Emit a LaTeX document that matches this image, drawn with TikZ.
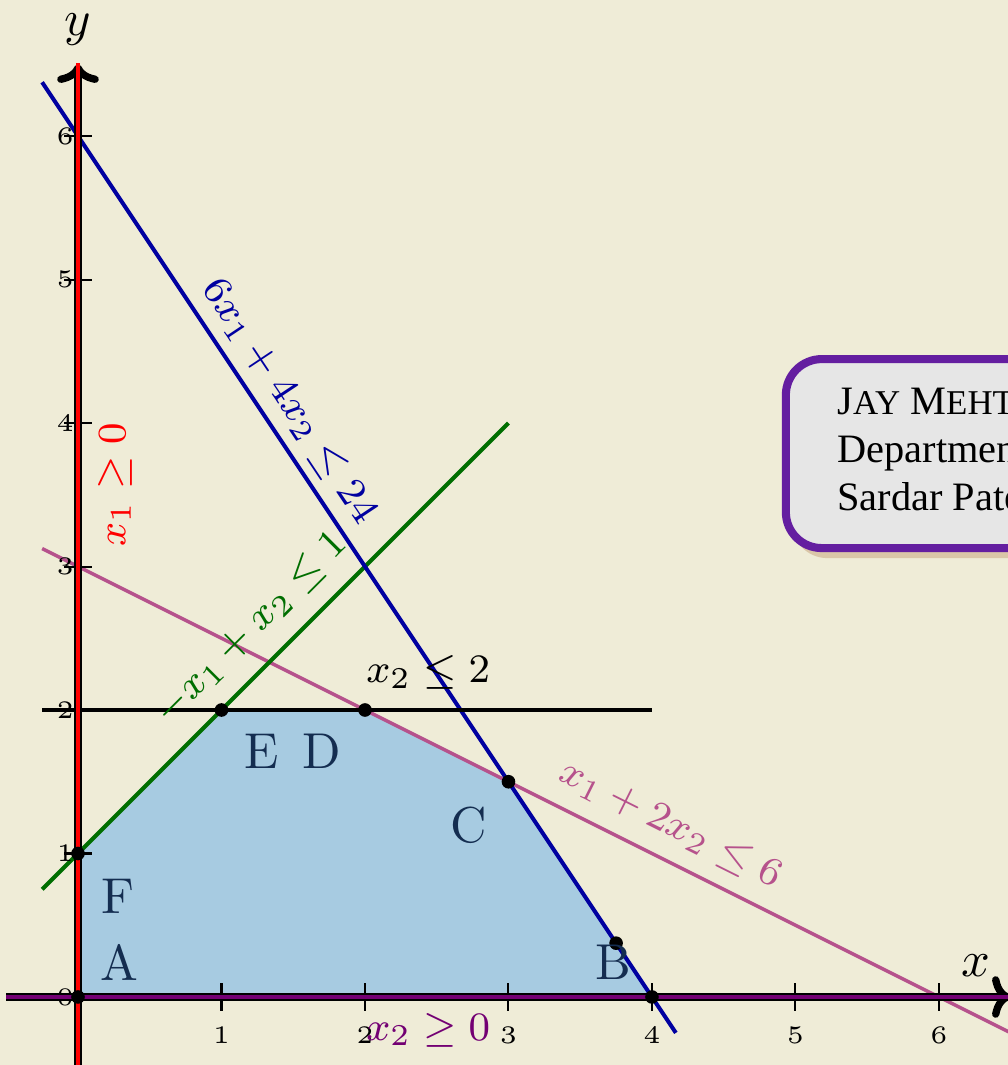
\documentclass[tikz,border=0pt]{standalone}
\usepackage{amsmath}
\usepackage{amssymb}
\usepackage{fontspec}
\newfontfamily\boxfont{Liberation Serif}
\usetikzlibrary{
    arrows.meta,
    shadows
}

\definecolor{paper}{RGB}{239,236,215}
\definecolor{feasible}{RGB}{167,203,225}
\definecolor{cornertext}{RGB}{20,45,80}
\definecolor{navyline}{RGB}{0,0,160}
\definecolor{greenline}{RGB}{0,110,0}
\definecolor{pinkline}{RGB}{182,82,140}
\definecolor{purpleline}{RGB}{115,0,115}
\definecolor{boxframe}{RGB}{100,30,160}
\definecolor{boxfill}{RGB}{230,230,230}
\definecolor{boxshade}{RGB}{218,198,168}

\newcommand{\smallcap}[1]{{\fontsize{6.9}{8}\selectfont #1}}

\tikzset{
    axisline/.style={line width=1.45pt, -{To[length=1.3mm,width=2.9mm]}},
    tickmark/.style={line width=0.4pt},
    ticklabel/.style={font=\tiny, inner sep=0pt},
    constraint/.style={font=\fontsize{8.3}{10}\selectfont, inner sep=1pt},
    corner/.style={text=cornertext, inner sep=0pt},
    vertexdot/.style={fill=black}
}

\begin{document}
\begin{tikzpicture}[scale=1]
% Background and frame
\fill[paper] (-0.5436,-0.474) rectangle (6.481,6.948);
\useasboundingbox (-0.5436,-0.474) rectangle (6.481,6.948);
\clip (-0.5436,-0.474) rectangle (6.481,6.948);

% Corner points
\coordinate (A) at (0,0);
\coordinate (B) at (4,0);
\coordinate (C) at (3,1.5);
\coordinate (D) at (2,2);
\coordinate (E) at (1,2);
\coordinate (F) at (0,1);
\coordinate (G) at (3.75,0.375);

% Feasible region
\fill[feasible] (A) -- (B) -- (C) -- (D) -- (E) -- (F) -- cycle;

% Constraint lines
\draw[pinkline, line width=0.7pt] (-0.25,3.125) -- (6.5,-0.25);
\draw[greenline, line width=0.8pt] (-0.25,0.75) -- (3,4);
\draw[navyline, line width=0.8pt] (-0.25,6.375) -- (4.1667,-0.25);
\draw[black, line width=0.9pt] (-0.25,2) -- (4,2);

% Axes
\draw[axisline] (-0.5,0) -- (6.5,0);
\draw[axisline] (0,-0.5) -- (0,6.5);
\foreach \i in {1,...,6}{
    \draw[tickmark] (\i,0.095) -- (\i,-0.095);
    \node[ticklabel] (xt\i) at (\i,-0.27) {$\i$};
}
\foreach \i in {0,...,6}{
    \draw[tickmark] (-0.095,\i) -- (0.095,\i);
    \node[ticklabel] (yt\i) at (-0.09,\i) {$\i$};
}
\draw[red, line width=0.95pt] (0,-0.5) -- (0,6.51);
\draw[purpleline, line width=0.75pt] (-0.5,0) -- (6.5,0);

\node (xlab) at (6.26,0.22) {$x$};
\node (ylab) at (0,6.74) {$y$};

% Vertices
\foreach \p in {A,B,C,D,E,F,G}
    \fill[vertexdot] (\p) circle (1.35pt);

\node[corner] (la) at (0.29,0.24) {A};
\node[corner] (lb) at (3.73,0.24) {B};
\node[corner] (lc) at (2.72,1.20) {C};
\node[corner] (ld) at (1.70,1.71) {D};
\node[corner] (le) at (1.28,1.71) {E};
\node[corner] (lf) at (0.28,0.70) {F};

% Constraint labels
\node[constraint, text=navyline, rotate=-56.31] (c1) at (1.47,4.15) {$6x_1+4x_2\leq 24$};
\node[constraint, text=greenline, rotate=45] (c2) at (1.21,2.57) {$-x_1+x_2\leq 1$};
\node[constraint, text=pinkline, rotate=-26.57] (c3) at (4.13,1.20) {$x_1+2x_2\leq 6$};
\node[constraint] (c4) at (2.44,2.26) {$x_2\leq 2$};
\node[constraint, text=red, rotate=90] (c5) at (0.26,3.57) {$x_1\geq 0$};
\node[constraint, text=purpleline] (c6) at (2.44,-0.23) {$x_2\geq 0$};

% Author box
\node[draw=boxframe, fill=boxfill, line width=1.6pt, rounded corners=2.5mm,
      drop shadow={shadow xshift=0.04cm, shadow yshift=-0.07cm, fill=boxshade, opacity=1},
      anchor=west, minimum height=1.317cm, inner xsep=0.36cm, align=left,
      font=\boxfont\footnotesize] (author) at (4.905,3.787)
    {J\smallcap{AY} M\smallcap{EHTA}\\ Department of Mathematics\\ Sardar Patel University};
\end{tikzpicture}
\end{document}
